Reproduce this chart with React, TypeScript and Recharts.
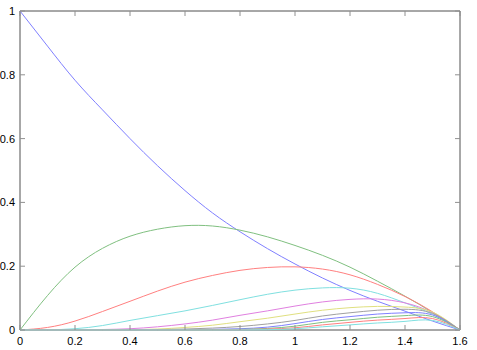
import { LineChart, Line, XAxis, YAxis, ReferenceArea } from 'recharts';

// sample positions along x
const xs = [0, 0.1, 0.2, 0.3, 0.4, 0.5, 0.6, 0.7, 0.8, 0.9, 1.0, 1.1, 1.2, 1.3, 1.4, 1.5, 1.6];

// curves, one array per line
const f0 = [1, 0.89, 0.783, 0.69, 0.6, 0.515, 0.437, 0.367, 0.308, 0.255, 0.207, 0.163, 0.124, 0.09, 0.059, 0.028, 0];
const f1 = [0, 0.108, 0.197, 0.256, 0.294, 0.316, 0.327, 0.326, 0.313, 0.292, 0.265, 0.234, 0.197, 0.153, 0.106, 0.055, 0];
const f2 = [0, 0.008, 0.028, 0.058, 0.09, 0.122, 0.15, 0.171, 0.187, 0.196, 0.198, 0.191, 0.173, 0.143, 0.105, 0.057, 0];
const f3 = [0, 0.0005, 0.004, 0.014, 0.03, 0.045, 0.06, 0.077, 0.095, 0.112, 0.125, 0.132, 0.131, 0.115, 0.085, 0.049, 0];
const f4 = [0, 0, 0.0005, 0.0015, 0.004, 0.01, 0.019, 0.031, 0.046, 0.06, 0.075, 0.088, 0.096, 0.097, 0.085, 0.054, 0];
const f5 = [0, 0, 0, 0.0003, 0.001, 0.003, 0.008, 0.015, 0.026, 0.037, 0.05, 0.062, 0.07, 0.074, 0.072, 0.056, 0];
const f6 = [0, 0, 0, 0, 0.0003, 0.001, 0.003, 0.006, 0.011, 0.019, 0.03, 0.044, 0.054, 0.062, 0.065, 0.052, 0];
const f7 = [0, 0, 0, 0, 0, 0.0003, 0.001, 0.002, 0.004, 0.009, 0.02, 0.033, 0.042, 0.05, 0.054, 0.047, 0];
const f8 = [0, 0, 0, 0, 0, 0, 0.0003, 0.001, 0.002, 0.005, 0.012, 0.024, 0.032, 0.04, 0.045, 0.042, 0];
const f9 = [0, 0, 0, 0, 0, 0, 0, 0.0003, 0.001, 0.003, 0.007, 0.016, 0.024, 0.031, 0.036, 0.036, 0];
const f10 = [0, 0, 0, 0, 0, 0, 0, 0, 0.0003, 0.001, 0.004, 0.01, 0.016, 0.022, 0.027, 0.03, 0];

const series = [f0, f1, f2, f3, f4, f5, f6, f7, f8, f9, f10];
const COLORS = ['#8080ff', '#80c080', '#ff8080', '#80e0e0', '#e080e0', '#e0e080', '#a0a0a0'];

const xTicks = [0, 0.2, 0.4, 0.6, 0.8, 1, 1.2, 1.4, 1.6];
const yTicks = [0, 0.2, 0.4, 0.6, 0.8, 1];

const data = xs.map((x, i) => {
  const row: Record<string, number> = { x };
  series.forEach((s, k) => {
    row['f' + k] = s[i];
  });
  return row;
});

const LEFT = 20;
const RIGHT = 460;
const TOP = 11;
const BOTTOM = 330;
const TICK = 5;
const FONT = '"Liberation Sans", Arial, sans-serif';

function XTick(props: any) {
  const { x, payload } = props;
  return (
    <g>
      <line x1={x} y1={BOTTOM} x2={x} y2={BOTTOM - TICK} stroke="#909090" />
      <line x1={x} y1={TOP} x2={x} y2={TOP + TICK} stroke="#909090" />
      <text x={x} y={345} textAnchor="middle" fontSize={11} fontFamily={FONT} fill="#000">
        {String(payload.value)}
      </text>
    </g>
  );
}

function YTick(props: any) {
  const { y, payload } = props;
  return (
    <g>
      <line x1={LEFT} y1={y} x2={LEFT + TICK} y2={y} stroke="#909090" />
      <line x1={RIGHT} y1={y} x2={RIGHT - TICK} y2={y} stroke="#909090" />
      <text x={15} y={y + 4} textAnchor="end" fontSize={11} fontFamily={FONT} fill="#000">
        {String(payload.value)}
      </text>
    </g>
  );
}

export default function App() {
  return (
    <div style={{ position: 'absolute', left: 0, top: 0, background: '#fff' }}>
      <LineChart width={477} height={350} data={data} margin={{ top: TOP, right: 477 - RIGHT, bottom: 0, left: 0 }}>
        <XAxis
          dataKey="x"
          type="number"
          domain={[0, 1.6]}
          ticks={xTicks}
          tick={<XTick />}
          tickLine={false}
          axisLine={false}
          tickSize={0}
          height={20}
          interval={0}
        />
        <YAxis
          type="number"
          domain={[0, 1]}
          ticks={yTicks}
          tick={<YTick />}
          tickLine={false}
          axisLine={false}
          tickSize={0}
          width={20}
          interval={0}
        />
        {series.map((_, k) => (
          <Line
            key={k}
            dataKey={'f' + k}
            type="natural"
            stroke={COLORS[k % COLORS.length]}
            strokeWidth={1}
            dot={false}
            isAnimationActive={false}
          />
        ))}
        <ReferenceArea x1={0} x2={1.6} y1={0} y2={1} fill="none" stroke="#505050" strokeWidth={1} ifOverflow="visible" />
      </LineChart>
    </div>
  );
}
